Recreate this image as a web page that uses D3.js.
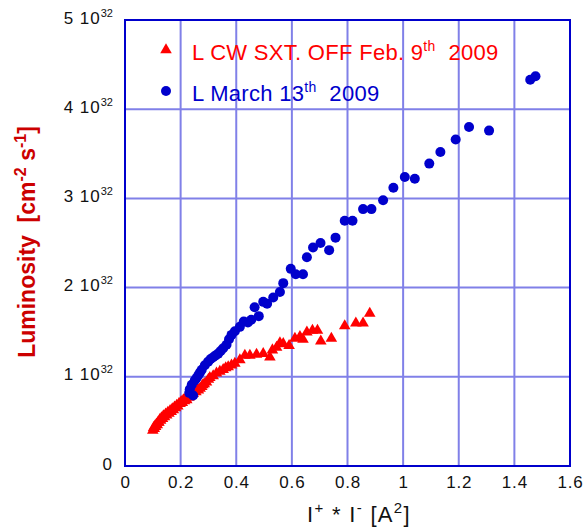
<!DOCTYPE html>
<html>
<head>
<meta charset="utf-8">
<script src="https://cdn.jsdelivr.net/npm/d3@7"></script>
<style>
  body { margin: 0; background: #fff; }
  text { font-family: "Liberation Sans", Arial, sans-serif; }
</style>
</head>
<body>
<div id="chart"></div>
<script>
// Feb. 9th 2009, CW sextupoles off: [I+*I-, L / 1e32]
const redX = [0.100, 0.103, 0.105, 0.108, 0.110, 0.113, 0.116, 0.119, 0.122, 0.125, 0.128, 0.131, 0.135, 0.138, 0.142, 0.146, 0.150, 0.154, 0.158, 0.162, 0.166, 0.170, 0.174, 0.178, 0.182, 0.186, 0.190, 0.194, 0.198, 0.202, 0.206, 0.210, 0.214, 0.218, 0.222, 0.226, 0.230, 0.234, 0.238, 0.245, 0.250, 0.255, 0.260, 0.264, 0.270, 0.276, 0.280, 0.285, 0.293, 0.300, 0.305, 0.317, 0.329, 0.341, 0.353, 0.362, 0.371, 0.383, 0.395, 0.413, 0.431, 0.449, 0.473, 0.497, 0.521, 0.530, 0.545, 0.557, 0.569, 0.590, 0.611, 0.629, 0.640, 0.654, 0.674, 0.692, 0.704, 0.742, 0.790, 0.830, 0.856, 0.880];
const redY = [0.40, 0.43, 0.42, 0.45, 0.44, 0.47, 0.46, 0.49, 0.49, 0.52, 0.51, 0.54, 0.53, 0.56, 0.55, 0.58, 0.57, 0.60, 0.59, 0.62, 0.61, 0.64, 0.63, 0.66, 0.65, 0.68, 0.67, 0.70, 0.70, 0.72, 0.71, 0.74, 0.73, 0.76, 0.74, 0.78, 0.77, 0.80, 0.79, 0.81, 0.84, 0.83, 0.86, 0.85, 0.87, 0.89, 0.91, 0.92, 0.94, 0.97, 0.99, 1.01, 1.04, 1.06, 1.08, 1.10, 1.11, 1.13, 1.15, 1.19, 1.24, 1.24, 1.25, 1.26, 1.22, 1.30, 1.33, 1.38, 1.37, 1.35, 1.43, 1.45, 1.42, 1.50, 1.52, 1.52, 1.40, 1.43, 1.57, 1.60, 1.60, 1.71];

// March 13th 2009
const blueX = [0.231, 0.245, 0.233, 0.240, 0.251, 0.258, 0.264, 0.270, 0.276, 0.287, 0.299, 0.308, 0.317, 0.326, 0.335, 0.344, 0.353, 0.365, 0.374, 0.383, 0.395, 0.413, 0.427, 0.442, 0.454, 0.481, 0.466, 0.497, 0.511, 0.533, 0.557, 0.569, 0.596, 0.614, 0.640, 0.654, 0.676, 0.703, 0.734, 0.757, 0.790, 0.818, 0.856, 0.886, 0.928, 0.965, 1.006, 1.042, 1.094, 1.134, 1.189, 1.237, 1.309, 1.457, 1.476];
const blueY = [0.82, 0.79, 0.86, 0.91, 0.96, 0.99, 1.02, 1.05, 1.08, 1.13, 1.17, 1.20, 1.22, 1.24, 1.26, 1.29, 1.32, 1.36, 1.42, 1.47, 1.51, 1.56, 1.62, 1.61, 1.64, 1.68, 1.78, 1.84, 1.82, 1.89, 1.95, 2.05, 2.21, 2.15, 2.15, 2.34, 2.45, 2.50, 2.42, 2.56, 2.75, 2.75, 2.88, 2.88, 2.98, 3.12, 3.24, 3.22, 3.39, 3.52, 3.66, 3.80, 3.76, 4.33, 4.37];

const xTicks = [0, 0.2, 0.4, 0.6, 0.8, 1, 1.2, 1.4, 1.6];
const yTicks = [0, 1, 2, 3, 4, 5];

const red = d3.zip(redX, redY);
const blue = d3.zip(blueX, blueY);

const W = 585, H = 527;
const margin = { top: 20, right: 15, bottom: 61, left: 125 },
      width = W - margin.left - margin.right,
      height = H - margin.top - margin.bottom;

const svgRoot = d3.select("#chart").append("svg")
  .attr("width", W).attr("height", H);
const svg = svgRoot.append("g")
  .attr("transform", `translate(${margin.left},${margin.top})`);

const x = d3.scaleLinear().domain([0, 1.6]).range([0, width]);
const y = d3.scaleLinear().domain([0, 5]).range([height, 0]);

// grid
const gridColor = "#8080e8";
svg.append("g").selectAll("line").data(xTicks.slice(1, -1)).enter().append("line")
  .attr("x1", d => x(d)).attr("x2", d => x(d))
  .attr("y1", 0).attr("y2", height)
  .attr("stroke", gridColor).attr("stroke-width", 2);
svg.append("g").selectAll("line").data(yTicks.slice(1, -1)).enter().append("line")
  .attr("x1", 0).attr("x2", width)
  .attr("y1", d => y(d)).attr("y2", d => y(d))
  .attr("stroke", gridColor).attr("stroke-width", 2);

// frame
svg.append("rect").attr("x", 0).attr("y", 0)
  .attr("width", width).attr("height", height)
  .attr("fill", "none").attr("stroke", "#0000cc").attr("stroke-width", 2);

// x axis
const xAxis = svg.append("g").attr("transform", `translate(0,${height})`)
  .call(d3.axisBottom(x).tickValues(xTicks).tickSize(0).tickPadding(10).tickFormat(d3.format("")));
xAxis.select(".domain").remove();
xAxis.selectAll("text").attr("font-size", 17).attr("fill", "#111")
  .attr("letter-spacing", 0.8)
  .attr("font-family", "Liberation Sans, Arial, sans-serif");

// y axis with 10^32 labels
const yAxis = svg.append("g")
  .call(d3.axisLeft(y).tickValues(yTicks).tickSize(0).tickPadding(12).tickFormat(""));
yAxis.select(".domain").remove();
yAxis.selectAll(".tick").each(function(d) {
  const t = d3.select(this).append("text")
    .attr("x", -12).attr("y", 3)
    .attr("text-anchor", "end")
    .attr("letter-spacing", 1)
    .attr("font-size", 17).attr("fill", "#111");
  if (d === 0) {
    t.text("0");
  } else {
    t.append("tspan").text(d + " 10");
    t.append("tspan").attr("dy", -7).attr("font-size", 11).attr("letter-spacing", 0).text("32");
  }
});

// red triangles
const tri = d3.symbol().type(d3.symbolTriangle).size(58);
svg.append("g").selectAll("path").data(red).enter().append("path")
  .attr("d", tri)
  .attr("transform", d => `translate(${x(d[0])},${y(d[1])})`)
  .attr("fill", "#ff0000");

// blue circles
svg.append("g").selectAll("circle").data(blue).enter().append("circle")
  .attr("cx", d => x(d[0])).attr("cy", d => y(d[1]))
  .attr("r", 5)
  .attr("fill", "#0000cc");

// legend
const lg = svgRoot.append("g");
lg.append("path").attr("d", tri).attr("transform", "translate(166,50)").attr("fill", "#ff0000");
const t1 = lg.append("text").attr("x", 192).attr("y", 60).attr("font-size", 22)
  .attr("letter-spacing", 0.3).attr("fill", "#ff0000");
t1.append("tspan").text("L CW SXT. OFF Feb. 9");
t1.append("tspan").attr("dy", -9).attr("font-size", 14).text("th");
t1.append("tspan").attr("dy", 9).text("\u00a0 2009");

lg.append("circle").attr("cx", 166).attr("cy", 91).attr("r", 5).attr("fill", "#0000cc");
const t2 = lg.append("text").attr("x", 192).attr("y", 101).attr("font-size", 22)
  .attr("letter-spacing", 0.3).attr("fill", "#0000cc");
t2.append("tspan").text("L March 13");
t2.append("tspan").attr("dy", -9).attr("font-size", 14).text("th");
t2.append("tspan").attr("dy", 9).text("\u00a0 2009");

// axis titles
const xt = svgRoot.append("text").attr("x", 359).attr("y", 522)
  .attr("text-anchor", "middle").attr("font-size", 22)
  .attr("letter-spacing", 1.3).attr("fill", "#111");
xt.append("tspan").text("I");
xt.append("tspan").attr("dy", -9).attr("font-size", 15).text("+");
xt.append("tspan").attr("dy", 9).text(" * I");
xt.append("tspan").attr("dy", -9).attr("font-size", 15).text("-");
xt.append("tspan").attr("dy", 9).text(" [A");
xt.append("tspan").attr("dy", -9).attr("font-size", 15).text("2");
xt.append("tspan").attr("dy", 9).text("]");

const yt = svgRoot.append("text")
  .attr("transform", "translate(35,242) rotate(-90)")
  .attr("text-anchor", "middle").attr("font-size", 23)
  .attr("font-weight", "bold").attr("fill", "#cc0000");
yt.append("tspan").text("Luminosity\u00a0 [cm");
yt.append("tspan").attr("dy", -9).attr("font-size", 16).text("-2");
yt.append("tspan").attr("dy", 9).text("\u00a0s");
yt.append("tspan").attr("dy", -9).attr("font-size", 16).text("-1");
yt.append("tspan").attr("dy", 9).text("]");
</script>
</body>
</html>
